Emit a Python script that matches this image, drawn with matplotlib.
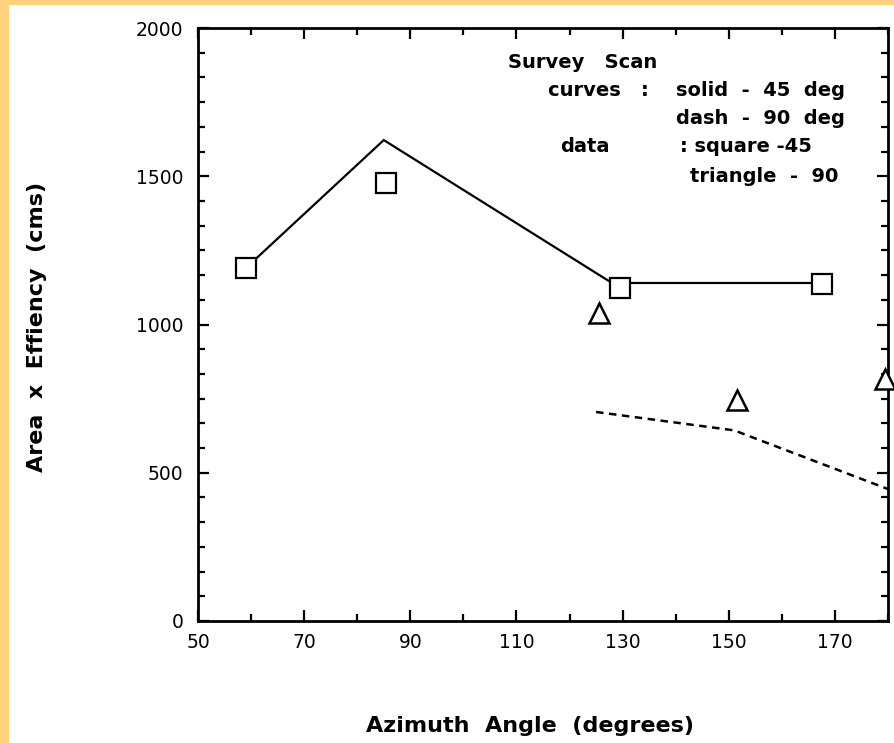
import matplotlib
matplotlib.use("Agg")
import matplotlib.pyplot as plt
from matplotlib.ticker import MultipleLocator
from matplotlib.patches import Rectangle

# ---- data ----
curve45_x = [59, 85, 128, 168]
curve45_y = [1190, 1622, 1140, 1140]
curve90_x = [125, 151, 180]
curve90_y = [705, 643, 445]
square_x = [59, 85.5, 129.5, 167.5]
square_y = [1190, 1478, 1122, 1137]
triangle_x = [125.5, 151.5, 179.5]
triangle_y = [1040, 745, 815]
x_ticks = [50, 70, 90, 110, 130, 150, 170]
y_ticks = [0, 500, 1000, 1500, 2000]

W, H = 894, 743
fig = plt.figure(figsize=(W / 100, H / 100), dpi=100)
fig.patch.set_facecolor("white")
# orange frame on left and top
fig.patches.append(Rectangle((0, 0), 8 / W, 1, transform=fig.transFigure,
                             color="#FFD27D", zorder=0))
fig.patches.append(Rectangle((0, 1 - 4 / H), 1, 4 / H, transform=fig.transFigure,
                             color="#FFD27D", zorder=0))

ax = fig.add_axes([198 / W, 1 - 621 / H, (888 - 198) / W, (621 - 28) / H])
ax.set_xlim(50, 180)
ax.set_ylim(0, 2000)

ax.plot(curve45_x, curve45_y, color="black", lw=1.6, solid_joinstyle="miter")
ax.plot(curve90_x, curve90_y, color="black", lw=1.8, dashes=(3, 2.2))
ax.plot(square_x, square_y, ls="none", marker="s", ms=14, mfc="white",
        mec="black", mew=1.6)
ax.plot(triangle_x, triangle_y, ls="none", marker="^", ms=14, mfc="white",
        mec="black", mew=1.8, clip_on=False, zorder=5)

for s in ax.spines.values():
    s.set_linewidth(2.0)

ax.set_xticks(x_ticks)
ax.set_yticks(y_ticks)
ax.xaxis.set_minor_locator(MultipleLocator(10))
ax.yaxis.set_minor_locator(MultipleLocator(500 / 6))
ax.tick_params(which="both", direction="in", top=True, right=True,
               width=1.6, labelsize=13.5, colors="black")
ax.tick_params(which="major", length=8)
ax.tick_params(which="minor", length=5)
ax.tick_params(axis="x", pad=9)
ax.tick_params(axis="y", pad=10.5)

fig.text(530 / W, 1 - 726 / H, "Azimuth  Angle  (degrees)", ha="center",
         va="center", fontsize=16, fontweight="bold")
fig.text(37 / W, 1 - 327 / H, "Area  x  Effiency  (cms)", ha="center",
         va="center", rotation=90, fontsize=16, fontweight="bold")

def ptext(x, y, s, ha="left"):
    fig.text(x / W, 1 - y / H, s, ha=ha, va="center", fontsize=14,
             fontweight="bold")

ptext(508, 62, "Survey   Scan")
ptext(548, 91, "curves   :")
ptext(845, 91, "solid  -  45  deg", ha="right")
ptext(845, 118, "dash  -  90  deg", ha="right")
ptext(560, 147, "data")
ptext(680, 147, ": square -45")
ptext(838, 177, "triangle  -  90", ha="right")

fig.savefig("out.png", dpi=100)
